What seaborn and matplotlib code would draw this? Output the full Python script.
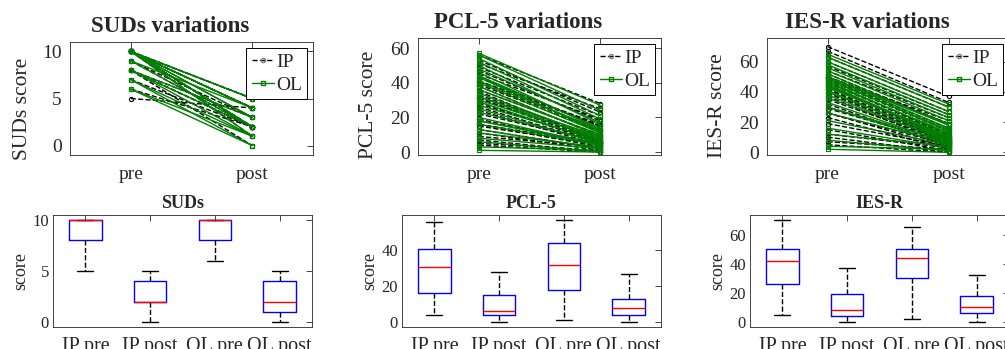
import matplotlib
matplotlib.use("Agg")
import matplotlib.pyplot as plt
import pandas as pd
import seaborn as sns
from matplotlib.lines import Line2D

sns.set_style("white")
plt.rcParams["font.family"] = ["Liberation Serif", "DejaVu Serif"]

# --- data: one value per subject, pre/post pairs in the same order ---
suds_ip_pre = [5, 6, 7, 8, 8, 8, 8, 9, 9, 10, 10, 10, 10, 10, 10, 10, 10, 10, 10, 10]
suds_ip_post = [4, 2, 2, 3, 2, 0, 2, 3, 2, 5, 4, 2, 1, 4, 2, 5, 2, 4, 2, 2]
suds_ol_pre = [6, 6, 7, 7, 8, 8, 8, 9, 9, 10, 10, 10, 10, 10, 10, 10, 10, 10, 10, 10]
suds_ol_post = [0, 1, 1, 0, 2, 1, 3, 2, 4, 1, 2, 5, 3, 2, 4, 2, 3, 4, 5, 4]

pcl_ip_pre = [4, 5, 7, 9, 11, 13, 15, 16, 16, 19, 22, 24, 26, 28, 29, 31,
              31, 33, 35, 36, 38, 39, 40, 41, 41, 43, 45, 47, 49, 51, 53, 56]
pcl_ip_post = [0, 1, 0, 3, 1, 2, 4, 3, 5, 4, 6, 4, 5, 6, 5, 7,
               6, 8, 6, 10, 9, 12, 13, 15, 16, 15, 19, 18, 21, 25, 23, 28]
pcl_ol_pre = [1, 3, 6, 8, 11, 13, 16, 18, 18, 20, 23, 25, 27, 29, 30, 32,
              32, 34, 36, 38, 40, 41, 43, 44, 44, 46, 48, 50, 52, 54, 56, 57]
pcl_ol_post = [0, 1, 0, 2, 3, 2, 4, 4, 5, 4, 6, 5, 7, 6, 8, 7,
               9, 8, 10, 9, 11, 13, 12, 11, 14, 13, 17, 16, 19, 21, 24, 27]

ies_ip_pre = [5, 7, 10, 12, 15, 19, 23, 26, 26, 29, 32, 35, 37, 39, 40, 42,
              42, 44, 45, 46, 47, 48, 49, 50, 50, 52, 54, 57, 60, 63, 67, 70]
ies_ip_post = [0, 2, 0, 3, 1, 4, 2, 5, 3, 6, 4, 7, 5, 8, 6, 9,
               7, 10, 8, 12, 11, 14, 16, 19, 21, 19, 23, 25, 27, 30, 33, 37]
ies_ol_pre = [2, 4, 8, 12, 16, 21, 26, 30, 30, 33, 36, 38, 40, 41, 43, 44,
              44, 45, 46, 47, 48, 49, 50, 50, 50, 52, 54, 56, 58, 60, 63, 65]
ies_ol_post = [0, 2, 1, 4, 3, 5, 6, 5, 7, 6, 8, 7, 9, 8, 10, 9,
               11, 10, 13, 12, 15, 14, 16, 18, 19, 18, 21, 23, 25, 27, 30, 32]

scale_names = ["SUDs", "PCL-5", "IES-R"]
conditions = ["IP pre", "IP post", "OL pre", "OL post"]
time_labels = ["pre", "post"]

groups = {
    "SUDs": (suds_ip_pre, suds_ip_post, suds_ol_pre, suds_ol_post),
    "PCL-5": (pcl_ip_pre, pcl_ip_post, pcl_ol_pre, pcl_ol_post),
    "IES-R": (ies_ip_pre, ies_ip_post, ies_ol_pre, ies_ol_post),
}

# layout (pixels in the 1005x349 picture)
W, H = 1005, 349
top_px = {"SUDs": (70, 313, 42, 155), "PCL-5": (418, 661, 38, 155), "IES-R": (767, 1009, 38, 155)}
bot_px = {"SUDs": (53, 312, 215, 327), "PCL-5": (402, 661, 215, 327), "IES-R": (750, 1009, 215, 327)}
top_ylim = {"SUDs": (-1, 11), "PCL-5": (-1.7, 65.8), "IES-R": (-1.8, 75.7)}
top_yticks = {"SUDs": [0, 5, 10], "PCL-5": [0, 20, 40, 60], "IES-R": [0, 20, 40, 60]}
bot_yticks = {"SUDs": [0, 5, 10], "PCL-5": [0, 20, 40], "IES-R": [0, 20, 40, 60]}
ylabel_xy = {"SUDs": (-0.156, 0.407), "PCL-5": (-0.165, 0.427), "IES-R": (-0.165, 0.42)}

green = "#008000"
axis_col = "#262626"


def rect(px):
    l, r, t, b = px
    return [l / W, 1 - b / H, (r - l) / W, (b - t) / H]


def pairs_frame(pre, post):
    n = len(pre)
    return pd.DataFrame({
        "subject": list(range(n)) * 2,
        "time": [1] * n + [2] * n,
        "score": list(pre) + list(post),
    })


fig = plt.figure(figsize=(W / 100, H / 100), dpi=100)

for name in scale_names:
    ip_pre, ip_post, ol_pre, ol_post = groups[name]

    # top: individual trajectories
    ax = fig.add_axes(rect(top_px[name]))
    sns.lineplot(data=pairs_frame(ip_pre, ip_post), x="time", y="score", units="subject",
                 estimator=None, color="black", linestyle="--", linewidth=1,
                 marker="o", markersize=3, markerfacecolor="none",
                 markeredgecolor="black", markeredgewidth=0.8, legend=False, ax=ax)
    sns.lineplot(data=pairs_frame(ol_pre, ol_post), x="time", y="score", units="subject",
                 estimator=None, color=green, linestyle="-", linewidth=1,
                 marker="s", markersize=3, markerfacecolor="none",
                 markeredgecolor=green, markeredgewidth=0.8, legend=False, ax=ax)
    ax.set_xlim(0.5, 2.5)
    ax.set_ylim(*top_ylim[name])
    ax.set_xticks([1, 2], time_labels)
    ax.set_yticks(top_yticks[name])
    ax.set_xlabel("")
    ax.set_ylabel(f"{name} score", fontsize=15.5, color=axis_col)
    ax.yaxis.set_label_coords(*ylabel_xy[name])
    ax.set_title(f"{name} variations", fontsize=16.5, fontweight="bold", pad=7, x=0.413)
    ax.tick_params(direction="in", top=True, right=True, length=4, width=0.6,
                   colors=axis_col, labelsize=14)
    ax.tick_params(axis="x", pad=8)
    ax.tick_params(axis="y", pad=6)
    for sp in ax.spines.values():
        sp.set_color(axis_col)
        sp.set_linewidth(0.6)
    handles = [
        Line2D([], [], color="black", linestyle="--", linewidth=1, marker="o", markersize=3,
               markerfacecolor="none", markeredgecolor="gray"),
        Line2D([], [], color=green, linestyle="-", linewidth=1, marker="s", markersize=3,
               markerfacecolor="none", markeredgecolor=green),
    ]
    leg = ax.legend(handles, ["IP", "OL"], loc="upper right", fontsize=14, frameon=True,
                    fancybox=False, framealpha=1, edgecolor="black", borderpad=0.27,
                    labelspacing=0.29, handlelength=1.15, handletextpad=0.1,
                    borderaxespad=0.3)
    leg.get_frame().set_linewidth(0.7)

    # bottom: box plots
    box_df = pd.DataFrame({
        "condition": [c for c, vals in zip(conditions, groups[name]) for _ in vals],
        "score": [v for vals in groups[name] for v in vals],
    })
    bx = fig.add_axes(rect(bot_px[name]))
    sns.boxplot(data=box_df, x="condition", y="score", order=conditions, whis=(0, 100),
                width=0.5, fill=False, linewidth=1, ax=bx,
                boxprops=dict(color="blue"), medianprops=dict(color="red"),
                whiskerprops=dict(color="black", linestyle="--"),
                capprops=dict(color="black"))
    lo = min(min(v) for v in groups[name])
    hi = max(max(v) for v in groups[name])
    padv = 0.05 * (hi - lo)
    bx.set_ylim(lo - padv, hi + padv)
    bx.set_xlim(-0.5, 3.5)
    bx.set_yticks(bot_yticks[name])
    bx.set_xlabel("")
    bx.set_ylabel("score", fontsize=13, color=axis_col, labelpad=2)
    bx.set_title(name, fontsize=13, fontweight="bold", pad=5)
    bx.tick_params(direction="in", top=True, right=True, length=4, width=0.6,
                   colors=axis_col, labelsize=12)
    bx.tick_params(axis="x", labelsize=14.5, pad=7.5)
    bx.tick_params(axis="y", pad=3)
    for sp in bx.spines.values():
        sp.set_color(axis_col)
        sp.set_linewidth(0.6)

fig.savefig("out.png", dpi=100)
